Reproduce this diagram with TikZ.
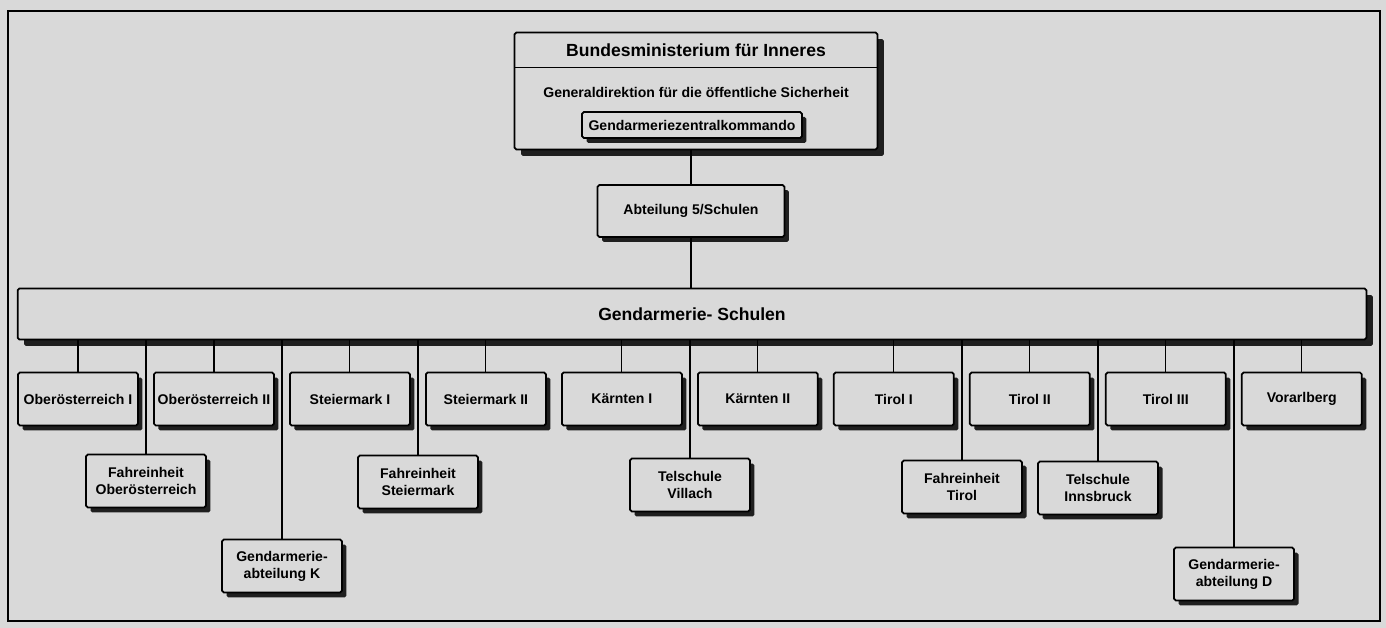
\documentclass[tikz,border=0pt]{standalone}
\usepackage{fontspec}
\setmainfont{Liberation Sans}
\usetikzlibrary{positioning,calc,shadows}
\definecolor{paper}{gray}{0.85}
\definecolor{ink}{gray}{0.12}

\begin{document}
\begin{tikzpicture}[x=0.02cm,y=-0.02cm,font=\bfseries\fontsize{8}{9.6}\selectfont,node distance=3.2mm]
  \tikzstyle{unit}=[draw,line width=1pt,fill=paper,rounded corners=1pt,align=center,minimum width=24mm,minimum height=10.6mm,inner sep=1pt,outer sep=0pt]
  \tikzstyle{shade}=[drop shadow={shadow xshift=0.9mm,shadow yshift=-1mm,fill=ink,opacity=1}]
  \tikzstyle{bigshade}=[drop shadow={shadow xshift=1.3mm,shadow yshift=-1.3mm,fill=ink,opacity=1}]
  \tikzstyle{link}=[line width=0.6pt]
  \tikzstyle{head}=[font=\bfseries\fontsize{10}{12}\selectfont]

  % paper and frame
  \fill[paper] (0,0) rectangle (1386,628);
  \useasboundingbox (0,0) rectangle (1386,628);
  \draw[line width=1pt] (8,11) rectangle (1380,621);

  % ministry
  \node[unit,bigshade,minimum width=72.6mm,minimum height=23.4mm] (bmi) at (696,91) {};
  \draw[line width=1pt] ($(bmi.north west)+(0,35)$) -- ($(bmi.north east)+(0,35)$);
  \node[head] (bmititle) at (696,50) {Bundesministerium für Inneres};
  \node (gd) at (696,92) {Generaldirektion für die öffentliche Sicherheit};
  \node[unit,shade,minimum width=44mm,minimum height=5.2mm] (gzk) at (692,125) {Gendarmeriezentralkommando};
  % department
  \node[unit,shade,minimum width=37.4mm,minimum height=10.4mm] (abt) at (691,211) {Abteilung 5/Schulen};
  % schools bar
  \node[unit,bigshade,head,minimum width=269.8mm,minimum height=10.2mm] (schulen) at (692,314) {Gendarmerie- Schulen};

  % schools
  \node[unit,shade] (ooe1) at (78,399) {Oberösterreich I};
  \node[unit,shade,right=of ooe1] (ooe2) {Oberösterreich II};
  \node[unit,shade,right=of ooe2] (stm1) {Steiermark I};
  \node[unit,shade,right=of stm1] (stm2) {Steiermark II};
  \node[unit,shade,right=of stm2] (ktn1) {Kärnten I};
  \node[unit,shade,right=of ktn1] (ktn2) {Kärnten II};
  \node[unit,shade,right=of ktn2] (tir1) {Tirol I};
  \node[unit,shade,right=of tir1] (tir2) {Tirol II};
  \node[unit,shade,right=of tir2] (tir3) {Tirol III};
  \node[unit,shade,right=of tir3] (vbg) {Vorarlberg};

  % branch units
  \node[unit,shade] (fooe) at (146,481) {Fahreinheit\\Oberösterreich};
  \node[unit,shade] (gak) at (282,566) {Gendarmerie-\\abteilung K};
  \node[unit,shade] (fstm) at (418,482) {Fahreinheit\\Steiermark};
  \node[unit,shade] (tvil) at (690,485) {Telschule\\Villach};
  \node[unit,shade] (ftir) at (962,487) {Fahreinheit\\Tirol};
  \node[unit,shade] (tibk) at (1098,488) {Telschule\\Innsbruck};
  \node[unit,shade] (gad) at (1234,574) {Gendarmerie-\\abteilung D};

  % links
  \draw[link] (abt.north) -- (abt.north |- bmi.south);
  \draw[link] (abt.south) -- (abt.south |- schulen.north);
  \draw[link] (ooe1) -- (ooe1 |- schulen.south);
  \draw[link] (ooe2) -- (ooe2 |- schulen.south);
  \draw[link] (stm1) -- (stm1 |- schulen.south);
  \draw[link] (stm2) -- (stm2 |- schulen.south);
  \draw[link] (ktn1) -- (ktn1 |- schulen.south);
  \draw[link] (ktn2) -- (ktn2 |- schulen.south);
  \draw[link] (tir1) -- (tir1 |- schulen.south);
  \draw[link] (tir2) -- (tir2 |- schulen.south);
  \draw[link] (tir3) -- (tir3 |- schulen.south);
  \draw[link] (vbg) -- (vbg |- schulen.south);
  \draw[link] (fooe) -- (fooe |- schulen.south);
  \draw[link] (gak) -- (gak |- schulen.south);
  \draw[link] (fstm) -- (fstm |- schulen.south);
  \draw[link] (tvil) -- (tvil |- schulen.south);
  \draw[link] (ftir) -- (ftir |- schulen.south);
  \draw[link] (tibk) -- (tibk |- schulen.south);
  \draw[link] (gad) -- (gad |- schulen.south);
\end{tikzpicture}
\end{document}
